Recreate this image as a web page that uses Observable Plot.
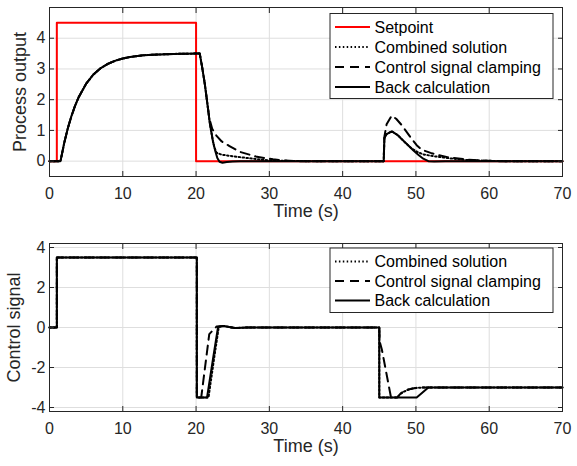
<!DOCTYPE html>
<html><head><meta charset="utf-8">
<script src="https://cdn.jsdelivr.net/npm/d3@7"></script>
<script src="https://cdn.jsdelivr.net/npm/@observablehq/plot@0.6"></script>
<style>
html,body{margin:0;padding:0;background:#fff;}
#chart{width:577px;height:466px;overflow:hidden;}
#chart svg{display:block;}
</style></head><body><div id="chart"></div>
<script>
// ---------- data ----------
const xTicks = [0, 10, 20, 30, 40, 50, 60, 70];
const yTicksTop = [0, 1, 2, 3, 4];
const yTicksBottom = [-4, -2, 0, 2, 4];
const xLabel = "Time (s)";
const yLabelTop = "Process output";
const yLabelBottom = "Control signal";
const namesTop = ["Setpoint", "Combined solution", "Control signal clamping", "Back calculation"];
const namesBottom = ["Combined solution", "Control signal clamping", "Back calculation"];

// process output (top panel)
const setpointT = [0, 1, 1, 20, 20, 70];
const setpointV = [0, 0, 4.5, 4.5, 0, 0];
const riseT = [0, 1.5, 2, 2.5, 3, 3.5, 4, 5, 6, 7, 8, 9, 10, 11, 12, 13, 14, 15, 17, 20, 20.5];
const riseV = [0, 0, 0.58, 1.07, 1.47, 1.81, 2.09, 2.52, 2.82, 3.03, 3.17, 3.27, 3.34, 3.39, 3.42, 3.45, 3.46, 3.47, 3.49, 3.5, 3.5];
const backT = [20.8, 21.2, 21.5, 21.9, 22.3, 22.6, 22.9, 23.2, 23.6, 24.2, 25, 26, 45.6, 45.7, 46.0, 46.7, 47.5, 48.3, 49.0, 49.7, 50.4, 51.0, 51.7, 52.5, 54, 70];
const backV = [3.1, 2.5, 1.95, 1.2, 0.65, 0.35, 0.1, -0.02, -0.05, -0.03, -0.01, 0, 0, 0.75, 0.88, 0.97, 0.85, 0.66, 0.5, 0.34, 0.19, 0.08, 0, -0.01, 0, 0];
const combT = [20.8, 21.2, 21.5, 21.9, 22.3, 22.5, 22.8, 23.5, 25, 27.4, 29.7, 32, 35, 45.6, 45.7, 46.0, 46.7, 47.5, 48.3, 49.0, 49.5, 50.2, 51, 52.4, 54.7, 57.2, 60, 62, 70];
const combV = [3.1, 2.5, 1.95, 1.2, 0.65, 0.45, 0.27, 0.21, 0.16, 0.09, 0.03, 0.01, 0, 0, 0.75, 0.88, 0.97, 0.85, 0.66, 0.5, 0.4, 0.3, 0.22, 0.16, 0.09, 0.03, 0.01, 0, 0];
const clampT = [20.8, 21.2, 21.5, 21.8, 22.2, 22.8, 23.5, 24.5, 26, 28.3, 30.5, 32, 34, 45.6, 45.7, 46.0, 46.7, 47.3, 48.1, 48.8, 49.4, 50.1, 50.8, 52, 53, 54.3, 57, 59, 61, 70];
const clampV = [3.1, 2.5, 1.95, 1.4, 1.05, 0.82, 0.64, 0.5, 0.3, 0.14, 0.06, 0.02, 0, 0, 0.8, 1.2, 1.48, 1.38, 1.16, 0.93, 0.73, 0.52, 0.37, 0.27, 0.2, 0.13, 0.05, 0.02, 0, 0];

// control signal (bottom panel)
const uStartT = [0, 1, 1, 20.1, 20.1];
const uStartV = [0, 0, 3.5, 3.5, -3.5];
const uBackT = [21.5, 22.3, 23.0, 23.7, 24.5, 25.3, 27, 45, 45, 50.1, 51.7, 70];
const uBackV = [-3.5, -1.6, 0.03, 0.08, 0.03, -0.03, 0, 0, -3.5, -3.5, -3.0, -3.0];
const uCombT = [21.7, 22.4, 23.1, 23.7, 24.5, 25.3, 27, 45, 45, 47.4, 47.8, 48.3, 49, 50, 51, 70];
const uCombV = [-3.5, -1.7, 0.03, 0.08, 0.03, -0.03, 0, 0, -3.5, -3.5, -3.35, -3.22, -3.1, -3.02, -3.0, -3.0];
const uClampT = [20.7, 21.8, 22.8, 23.7, 24.5, 25.3, 27, 45, 45.05, 45.35, 46.6, 47.5, 47.9, 48.5, 49.5, 50.5, 70];
const uClampV = [-3.5, -0.33, 0.05, 0.08, 0.03, -0.03, 0, 0, -0.7, -1.1, -3.5, -3.5, -3.3, -3.15, -3.05, -3.0, -3.0];

// ---------- build ----------
const rows = (name, T, V) => T.map((t, i) => ({name, t, v: V[i]}));
const topData = [
  ...rows("Setpoint", setpointT, setpointV),
  ...rows("Combined solution", riseT.concat(combT), riseV.concat(combV)),
  ...rows("Control signal clamping", riseT.concat(clampT), riseV.concat(clampV)),
  ...rows("Back calculation", riseT.concat(backT), riseV.concat(backV))
];
const bottomData = [
  ...rows("Combined solution", uStartT.concat(uCombT), uStartV.concat(uCombV)),
  ...rows("Control signal clamping", uStartT.concat(uClampT), uStartV.concat(uClampV)),
  ...rows("Back calculation", uStartT.concat(uBackT), uStartV.concat(uBackV))
];

const style = {
  "Setpoint": {stroke: "#ff0000", dash: null},
  "Combined solution": {stroke: "#000", dash: "1.5,2.4"},
  "Control signal clamping": {stroke: "#000", dash: "9,6"},
  "Back calculation": {stroke: "#000", dash: null}
};
const INK = "#262626", GRID = "#dedede";
const FONT = "'Liberation Sans', Arial, Helvetica, sans-serif";
const fmt = d => String(d);

function legendMark(names, offTop, rowH, boxH) {
  return (index, scales, values, dims) => {
    const g = d3.create("svg:g");
    const right = dims.width - dims.marginRight - 9;
    const w = 223;
    const x0 = right - w, y0 = dims.marginTop + offTop;
    g.append("rect").attr("x", x0).attr("y", y0).attr("width", w).attr("height", boxH)
      .attr("fill", "#fff").attr("stroke", INK).attr("stroke-width", 1);
    names.forEach((n, i) => {
      const yy = y0 + 13.5 + i * rowH;
      const s = style[n];
      g.append("line").attr("x1", x0 + 5).attr("x2", x0 + 40).attr("y1", yy).attr("y2", yy)
        .attr("stroke", s.stroke).attr("stroke-width", 2).attr("stroke-dasharray", s.dash);
      g.append("text").attr("x", x0 + 44.5).attr("y", yy).attr("dy", "0.35em")
        .attr("text-anchor", "start")
        .attr("fill", "#000").attr("font-size", 16).attr("font-family", FONT).text(n);
    });
    return g.node();
  };
}

function panel({height, marginTop, marginBottom, yDomain, yTicks, data, names, yLabel, yLabelDx, legend}) {
  return Plot.plot({
    width: 577, height, marginTop, marginBottom, marginLeft: 49, marginRight: 15,
    style: {fontFamily: FONT, fontSize: "16px", color: INK, background: "#fff", overflow: "visible"},
    x: {domain: [0, 70], label: null},
    y: {domain: yDomain, label: null},
    marks: [
      Plot.gridX(xTicks, {stroke: GRID, strokeOpacity: 1}),
      Plot.gridY(yTicks, {stroke: GRID, strokeOpacity: 1}),
      ...names.map(n => Plot.line(data.filter(d => d.name === n), {
        x: "t", y: "v", stroke: style[n].stroke, strokeWidth: 2, strokeDasharray: style[n].dash
      })),
      Plot.frame({stroke: INK, strokeWidth: 1}),
      Plot.axisX(xTicks, {anchor: "bottom", tickSize: -5, tickPadding: 16, tickFormat: fmt, label: null}),
      Plot.axisX(xTicks, {anchor: "top", tickSize: -5, tickFormat: () => "", label: null}),
      Plot.axisY(yTicks, {anchor: "left", tickSize: -5, tickPadding: 9, tickFormat: fmt, label: null}),
      Plot.axisY(yTicks, {anchor: "right", tickSize: -5, tickFormat: () => "", label: null}),
      Plot.text([xLabel], {text: d => d, frameAnchor: "bottom", dy: 40, fontSize: 18, fill: INK}),
      Plot.text([yLabel], {text: d => d, frameAnchor: "left", textAnchor: "middle", dx: yLabelDx, rotate: -90, fontSize: 18, fill: INK}),
      legend
    ]
  });
}

const chart = document.getElementById("chart");
chart.append(panel({
  height: 230, marginTop: 7, marginBottom: 54, yDomain: [-0.5, 5], yTicks: yTicksTop,
  data: topData, names: namesTop, yLabel: yLabelTop, yLabelDx: -29,
  legend: legendMark(namesTop, 6.5, 20, 85)
}));
chart.append(panel({
  height: 236, marginTop: 13, marginBottom: 55, yDomain: [-4.2, 4.2], yTicks: yTicksBottom,
  data: bottomData, names: namesBottom, yLabel: yLabelBottom, yLabelDx: -35,
  legend: legendMark(namesBottom, 5, 19.5, 64.5)
}));
</script></body></html>
